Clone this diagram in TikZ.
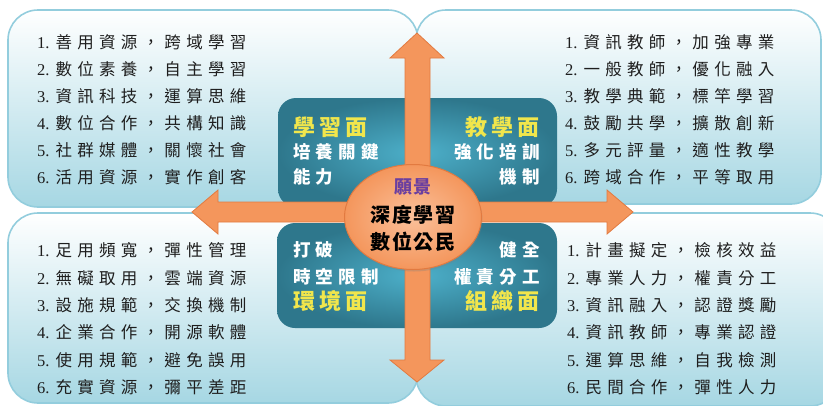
\documentclass[tikz,border=0pt]{standalone}
\usepackage{fontspec}
\usetikzlibrary{shapes.geometric,shadows}
\newfontfamily\cjklist[LetterSpace=32]{Noto Sans CJK TC}
\newfontfamily\cjkface[LetterSpace=18]{Noto Sans CJK TC}
\newfontfamily\cjkteal[LetterSpace=30]{Noto Sans CJK TC}
\newfontfamily\cjkmid[LetterSpace=8]{Noto Sans CJK TC}
\newfontfamily\numf{Liberation Serif}
\definecolor{boxbot}{HTML}{A6D7E3}
\definecolor{boxedge}{HTML}{93CDDD}
\definecolor{tealin}{HTML}{4DB0CA}
\definecolor{tealout}{HTML}{2E778C}
\definecolor{orfill}{HTML}{F4965C}
\definecolor{orlight}{HTML}{FBC09A}
\definecolor{oredge}{HTML}{E27A40}
\definecolor{facey}{HTML}{F1E64C}
\definecolor{visionp}{HTML}{6B3FA0}
\definecolor{listtxt}{HTML}{1E1E1E}
\newcommand{\itm}[2]{{\numf #1.}\hspace{6pt}#2}
\begin{document}
\begin{tikzpicture}[x=1pt,y=-1pt,
  outerbox/.style={draw=boxedge,line width=1.6pt,rounded corners=30pt,top color=white,bottom color=boxbot},
  tealbox/.style={rounded corners=18pt,inner color=tealin,outer color=tealout},
  arrowv/.style={draw=oredge,line width=0.8pt,left color=orfill,middle color=orlight,right color=orfill},
  arrowh/.style={draw=oredge,line width=0.8pt,top color=orfill,middle color=orlight,bottom color=orfill},
  listline/.style={anchor=west,inner sep=0pt,text=listtxt,font=\cjklist\fontsize{16.5}{17}\selectfont},
  facelbl/.style={inner sep=0pt,text=facey,font=\cjkface\bfseries\fontsize{22}{22}\selectfont},
  teallbl/.style={inner sep=0pt,text=white,font=\cjkteal\bfseries\fontsize{17.5}{18}\selectfont},
  midlbl/.style={inner sep=0pt,text=black,font=\cjkmid\bfseries\fontsize{20}{20}\selectfont},
]
\useasboundingbox (0,0) rectangle (823,405);
% outer boxes
\path[outerbox] (8,10) rectangle (418,207);
\path[outerbox] (416,10) rectangle (821,204);
\path[outerbox] (8,213) rectangle (418,403);
\path[outerbox] (416,213) rectangle (840,406);
% teal boxes
\path[tealbox] (278,98) rectangle (557,207);
\path[tealbox] (277,223) rectangle (557,328);
% arrows
\coordinate (tipW) at (192,212);
\coordinate (tipE) at (633,212);
\coordinate (tipN) at (417,33);
\coordinate (tipS) at (417,382);
\path[arrowh] (218,202) -- (218,190) -- (tipW) -- (218,234) -- (218,222) -- (607,222) -- (607,234) -- (tipE) -- (607,190) -- (607,202) -- cycle;
\path[arrowv] (405,58) -- (390,58) -- (tipN) -- (444,58) -- (430,58) -- (430,360) -- (444,360) -- (tipS) -- (390,360) -- (405,360) -- cycle;
% center ellipse
\node[ellipse,draw=oredge,line width=1pt,inner color=orlight,outer color=orfill,minimum width=137pt,minimum height=105pt,
  drop shadow={opacity=0.3,shadow xshift=1pt,shadow yshift=-2pt}] (vision) at (413,217) {};
\node[inner sep=0pt,text=visionp,font=\cjkmid\bfseries\fontsize{18}{18}\selectfont] (v0) at (413,187) {願景};
\node[midlbl] (v1) at (413,215) {深度學習};
\node[midlbl] (v2) at (413,242) {數位公民};
% teal labels
\node[facelbl,anchor=west] (fL) at (293,127) {學習面};
\node[teallbl,anchor=west] (fL1) at (293,152) {培養關鍵};
\node[teallbl,anchor=west] (fL2) at (293,177) {能力};
\node[facelbl,anchor=east] (fT) at (540,127) {教學面};
\node[teallbl,anchor=east] (fT1) at (540,152) {強化培訓};
\node[teallbl,anchor=east] (fT2) at (540,177) {機制};
\node[teallbl,anchor=west] (fE1) at (293,250) {打破};
\node[teallbl,anchor=west] (fE2) at (293,277) {時空限制};
\node[facelbl,anchor=west] (fE) at (293,301) {環境面};
\node[teallbl,anchor=east] (fO1) at (540,250) {健全};
\node[teallbl,anchor=east] (fO2) at (540,277) {權責分工};
\node[facelbl,anchor=east] (fO) at (540,301) {組織面};
% lists
\node[listline] (a1) at (37,42) {\itm{1}{善用資源，跨域學習}};
\node[listline] (a2) at (37,69) {\itm{2}{數位素養，自主學習}};
\node[listline] (a3) at (37,96) {\itm{3}{資訊科技，運算思維}};
\node[listline] (a4) at (37,123) {\itm{4}{數位合作，共構知識}};
\node[listline] (a5) at (37,150) {\itm{5}{社群媒體，關懷社會}};
\node[listline] (a6) at (37,177) {\itm{6}{活用資源，實作創客}};
\node[listline] (b1) at (565,42) {\itm{1}{資訊教師，加強專業}};
\node[listline] (b2) at (565,69) {\itm{2}{一般教師，優化融入}};
\node[listline] (b3) at (565,96) {\itm{3}{教學典範，標竿學習}};
\node[listline] (b4) at (565,123) {\itm{4}{鼓勵共學，擴散創新}};
\node[listline] (b5) at (565,150) {\itm{5}{多元評量，適性教學}};
\node[listline] (b6) at (565,177) {\itm{6}{跨域合作，平等取用}};
\node[listline] (c1) at (37,250) {\itm{1}{足用頻寬，彈性管理}};
\node[listline] (c2) at (37,278) {\itm{2}{無礙取用，雲端資源}};
\node[listline] (c3) at (37,305) {\itm{3}{設施規範，交換機制}};
\node[listline] (c4) at (37,332) {\itm{4}{企業合作，開源軟體}};
\node[listline] (c5) at (37,360) {\itm{5}{使用規範，避免誤用}};
\node[listline] (c6) at (37,387) {\itm{6}{充實資源，彌平差距}};
\node[listline] (d1) at (567,250) {\itm{1}{計畫擬定，檢核效益}};
\node[listline] (d2) at (567,278) {\itm{2}{專業人力，權責分工}};
\node[listline] (d3) at (567,305) {\itm{3}{資訊融入，認證獎勵}};
\node[listline] (d4) at (567,332) {\itm{4}{資訊教師，專業認證}};
\node[listline] (d5) at (567,360) {\itm{5}{運算思維，自我檢測}};
\node[listline] (d6) at (567,387) {\itm{6}{民間合作，彈性人力}};
\end{tikzpicture}
\end{document}
